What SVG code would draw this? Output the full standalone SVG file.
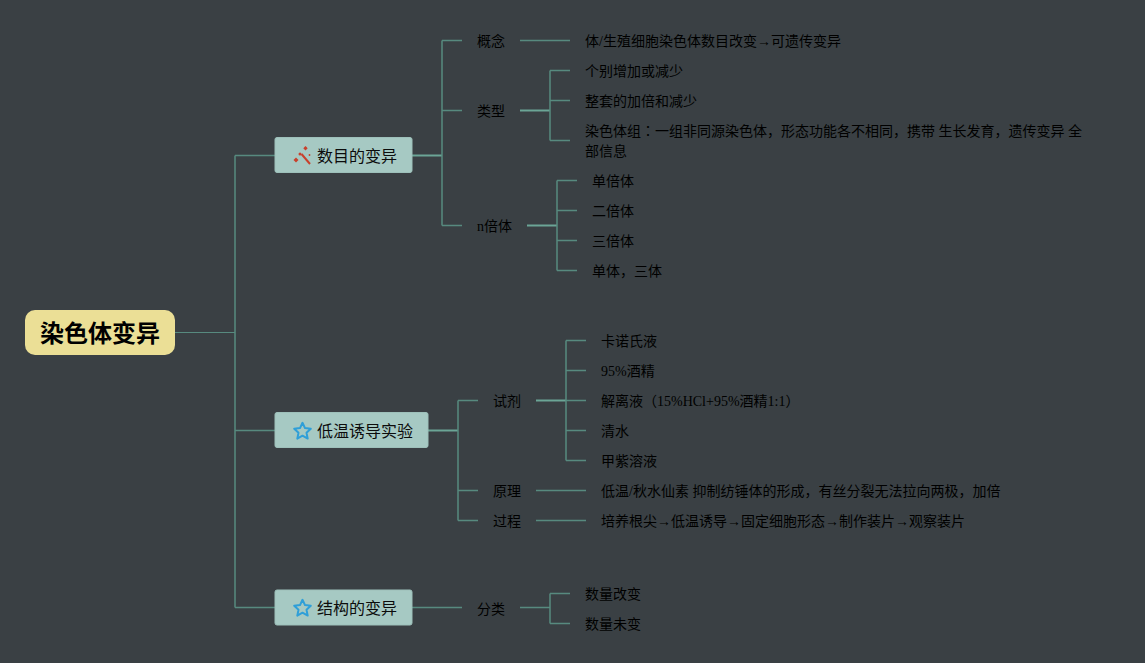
<svg xmlns="http://www.w3.org/2000/svg" width="1145" height="663" viewBox="0 0 1145 663">
<style>
text{font-family:"Liberation Serif","Noto Sans CJK SC",serif;font-size:14px;fill:#000}
.tc{font-family:"Noto Sans CJK TC",sans-serif}
.m{font-family:"Noto Sans CJK SC","Liberation Sans",sans-serif;font-size:16px;fill:#0c0c0c}
.r{font-family:"Noto Sans CJK SC","Liberation Sans",sans-serif;font-size:24px;font-weight:700;fill:#000}
.b{fill:#a6c9c3;stroke:#9dc0ba;stroke-width:1}
.l path{fill:none;stroke:#578a7f;stroke-width:1.5}
.l path.f{stroke:#6ba596;stroke-width:2}
.l path.t{stroke-width:1.1}
.s{fill:none;stroke:#2f9fd8;stroke-width:2;stroke-linejoin:round}
</style>
<defs><path id="star" d="M0-8.200L2.500-2.900 8.300-2.200 4 1.800 5.200 7.600 0 4.700-5.200 7.600-4 1.800-8.300-2.200-2.500-2.900Z"/></defs>
<rect width="1145" height="663" fill="#3a4044"/>
<g id="connectors" class="l">
<path class="t" d="M175 332.500H235"/>
<path d="M235 155.500V607.500M235 155.500H275M235 430.500H275M235 607.500H275"/>
<path class="f" d="M412 155.500H442"/>
<path d="M442 40.500V225.500M442 40.500H462M442 110.500H462M442 225.500H462"/>
<path d="M520 40.500H570"/>
<path class="f" d="M520 110.500H550"/>
<path d="M550 70.500V140.500M550 70.500H570M550 100.500H570M550 140.500H570"/>
<path class="f" d="M527 225.500H557"/>
<path d="M557 180.500V270.500M557 180.500H577M557 210.500H577M557 240.500H577M557 270.500H577"/>
<path class="f" d="M428 430.500H458"/>
<path d="M458 400.500V520.500M458 400.500H478M458 490.500H478M458 520.500H478"/>
<path class="f" d="M536 400.500H566"/>
<path d="M566 340.500V460.500M566 340.500H586M566 370.500H586M566 400.500H586M566 430.500H586M566 460.500H586"/>
<path d="M536 490.500H586M536 520.500H586"/>
<path d="M412 607.500H462M520 607.500H550M550 593.500V623.500M550 593.500H570M550 623.500H570"/>
</g>
<g id="root"><rect x="25" y="310" width="150" height="45" rx="10" fill="#ebdf96"/><text class="r" x="40" y="342">染色体变异</text></g>
<g id="n1"><rect class="b" x="275" y="137.500" width="137" height="35" rx="2"/>
<g fill="#c8402c"><path d="M301.500 154L310 164" fill="none" stroke="#c8402c" stroke-width="2"/><path d="M296 157.500l2.500 2.500-2.500 2.500-2.500-2.500Z"/><path d="M305.500 146l2.200 2.200-2.200 2.200-2.200-2.200Z"/><circle cx="300" cy="154" r="1.500"/><circle cx="309.500" cy="155" r="0.900"/></g>
<text class="m" x="317" y="162">数目的变异</text></g>
<g id="n2"><rect class="b" x="275" y="412.500" width="153" height="35" rx="2"/><use href="#star" class="s" x="302.500" y="431"/><text class="m" x="317" y="437">低温诱导实验</text></g>
<g id="n3"><rect class="b" x="275" y="590" width="137" height="35" rx="2"/><use href="#star" class="s" x="302.500" y="608"/><text class="m" x="317" y="614">结构的变异</text></g>
<g id="t1"><text x="477" y="46">概念</text></g>
<g id="t2"><text x="585" y="46">体/生殖细胞染色体数目改变→可遗传变异</text></g>
<g id="t3"><text x="477" y="116">类型</text></g>
<g id="t4"><text x="585" y="76">个别增加或减少</text></g>
<g id="t5"><text x="585" y="106">整套的加倍和减少</text></g>
<g id="t6"><text x="585" y="136">染色体组<tspan class="tc">：</tspan>一组非同源染色体，形态功能各不相同，携带 生长发育，遗传变异 全</text><text x="585" y="156">部信息</text></g>
<g id="t7"><text x="477" y="231">n倍体</text></g>
<g id="t8"><text x="592" y="186">单倍体</text></g>
<g id="t9"><text x="592" y="216">二倍体</text></g>
<g id="t10"><text x="592" y="246">三倍体</text></g>
<g id="t11"><text x="592" y="276">单体，三体</text></g>
<g id="t12"><text x="493" y="406">试剂</text></g>
<g id="t13"><text x="601" y="346">卡诺氏液</text></g>
<g id="t14"><text x="601" y="376">95%酒精</text></g>
<g id="t15"><text x="601" y="406">解离液（15%HCl+95%酒精1:1）</text></g>
<g id="t16"><text x="601" y="436">清水</text></g>
<g id="t17"><text x="601" y="466">甲紫溶液</text></g>
<g id="t18"><text x="493" y="496">原理</text></g>
<g id="t19"><text x="601" y="496">低温/秋水仙素 抑制纺锤体的形成，有丝分裂无法拉向两极，加倍</text></g>
<g id="t20"><text x="493" y="526">过程</text></g>
<g id="t21"><text x="601" y="526">培养根尖→低温诱导→固定细胞形态→制作装片→观察装片</text></g>
<g id="t22"><text x="477" y="614">分类</text></g>
<g id="t23"><text x="585" y="599">数量改变</text></g>
<g id="t24"><text x="585" y="629">数量未变</text></g>
</svg>
